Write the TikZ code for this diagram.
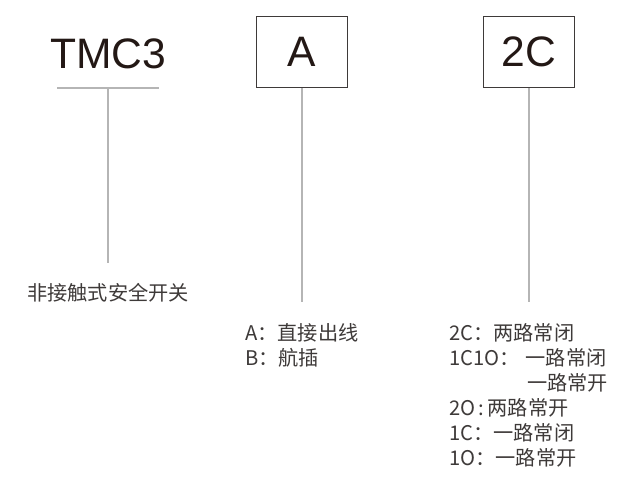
\documentclass[tikz,border=0pt]{standalone}
\usepackage{fontspec}
\setmainfont{Liberation Sans}
\newfontfamily\cjk{Noto Sans CJK SC}
\definecolor{inkdark}{HTML}{231815}
\definecolor{inksoft}{HTML}{3E3A39}
\definecolor{linegray}{HTML}{B5B5B5}
\tikzset{
  bigtext/.style={font=\fontsize{42.6}{50}\selectfont, text=inkdark, inner sep=0pt},
  codebox/.style={draw=inksoft, line width=1.2pt, minimum width=91pt, minimum height=71pt,
                  font=\fontsize{42.6}{50}\selectfont, text=inkdark, inner sep=0pt},
  conn/.style={draw=linegray, line width=1.4pt},
  label/.style={font=\cjk\fontsize{20.2}{22}\selectfont, text=inksoft, inner sep=0pt, anchor=west}
}
\begin{document}
\begin{tikzpicture}[x=1pt,y=-1pt]
\useasboundingbox[fill=white] (0,0) rectangle (617,500);

% headings
\node[bigtext, anchor=base] (tmc) at (108,69) {TMC3};
\node[codebox] (a) at (302,52) {A};
\node[codebox] (c) at (529,52) {2C};

% connectors
\coordinate (ul) at (57,88);
\coordinate (ur) at (159,88);
\coordinate (um) at (108,88);
\coordinate (te) at (108,263);
\coordinate (ae) at (302,302);
\coordinate (ce) at (529,302);
\draw[conn] (ul) -- (ur);
\draw[conn] (um) -- (te);
\draw[conn] (a.south) -- (ae);
\draw[conn] (c.south) -- (ce);

% labels
\node[label] (l1) at (27,293) {非接触式安全开关};
\node[label] (la) at (245,333) {A：直接出线};
\node[label] (lb) at (245,358) {B：航插};

\node[label] (r1) at (449,333) {2C：两路常闭};
\node[label] (r2) at (449,358) {1C1O：\hspace{6pt}一路常闭};
\node[label] (r2b) at (527,383) {一路常开};
\node[label] (r3) at (449,408) {2O\,:\,两路常开};
\node[label] (r4) at (449,433) {1C：一路常闭};
\node[label] (r5) at (449,458) {1O：一路常开};
\end{tikzpicture}
\end{document}
